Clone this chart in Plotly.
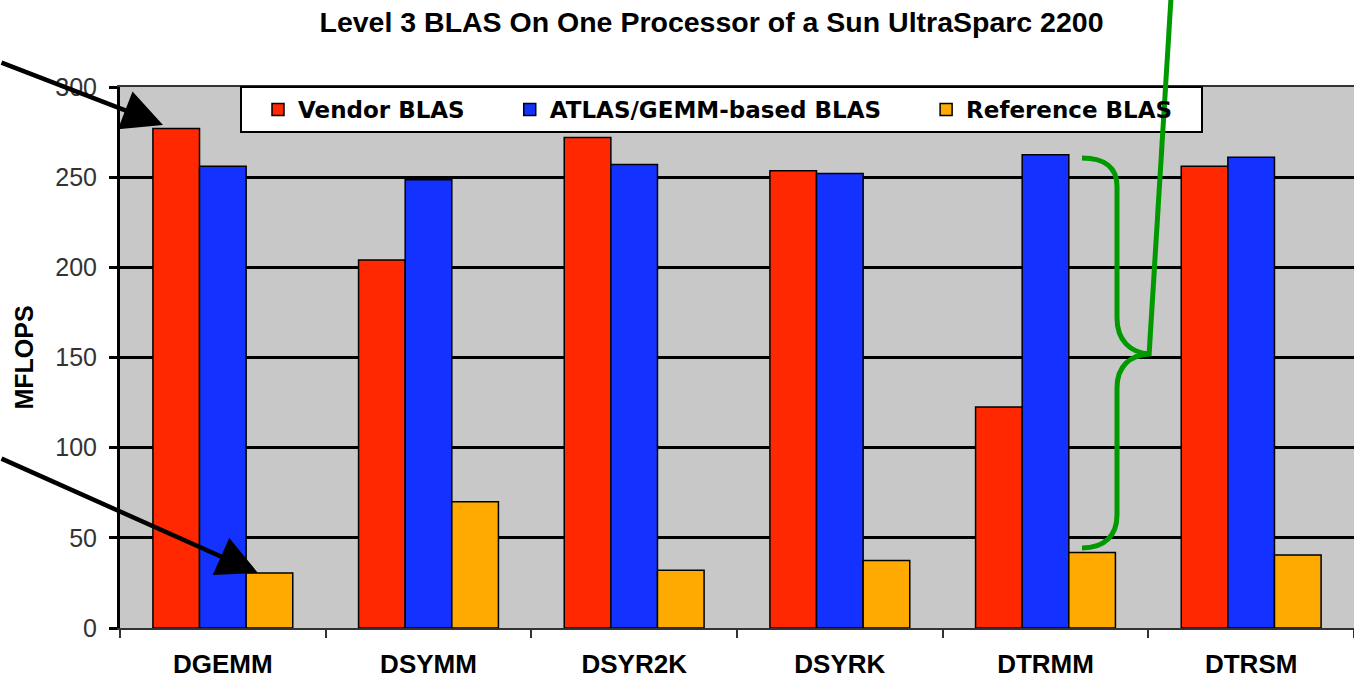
import plotly.graph_objects as go

categories = ["DGEMM", "DSYMM", "DSYR2K", "DSYRK", "DTRMM", "DTRSM"]
vendor = [277, 204, 272, 253.5, 122.5, 256]
atlas = [256, 248.5, 257, 252, 262.5, 261]
reference = [30.5, 70, 32, 37.5, 41.8, 40.5]
series_names = ["Vendor BLAS", "ATLAS/GEMM-based BLAS", "Reference BLAS"]
series_colors = ["#FF2800", "#1432FF", "#FFAA00"]
legend_pad = [5, 5, 0]
y_ticks = [0, 50, 100, 150, 200, 250, 300]
title_text = "Level 3 BLAS On One Processor of a Sun UltraSparc 2200"

W, H = 1354, 679
L, T, PW, PH = 120, 87, 1234, 541

def px(x):
    return (x - L) / PW

def py(y):
    return 1 - (y - T) / PH

fig = go.Figure()
for name, vals, col, pad in zip(series_names, [vendor, atlas, reference], series_colors, legend_pad):
    fig.add_trace(go.Bar(
        x=categories, y=vals, name=name + "\u00a0" * pad,
        marker=dict(color=col, line=dict(color="#000000", width=1.5)),
    ))

# green brace and pointer line (decorations, in pixel-derived paper coords)
pts = [
    ("M", [(1082, 158)]),
    ("C", [(1105, 158), (1117, 168), (1117, 186)]),
    ("L", [(1117, 318)]),
    ("C", [(1117, 340), (1130, 353), (1150, 354)]),
    ("C", [(1130, 355), (1117, 366), (1117, 388)]),
    ("L", [(1117, 515)]),
    ("C", [(1117, 535), (1105, 548), (1082, 548)]),
]
path = ""
for cmd, plist in pts:
    path += cmd + " " + " ".join(f"{px(a):.5f},{py(b):.5f}" for a, b in plist) + " "

shapes = [
    # legend frame
    dict(type="rect", xref="paper", yref="paper", layer="above",
         x0=px(241), y0=py(132), x1=px(1202), y1=py(87),
         fillcolor="#FFFFFF", line=dict(color="#000000", width=2)),
    dict(type="path", xref="paper", yref="paper", layer="above", path=path.strip(),
         line=dict(color="#009900", width=5)),
    dict(type="line", xref="paper", yref="paper", layer="above",
         x0=px(1149), y0=py(356), x1=px(1171), y1=py(-2),
         line=dict(color="#009900", width=5)),
]

annotations = [
    dict(x=px(163), y=py(125), xref="paper", yref="paper", text="",
         showarrow=True, arrowhead=2, arrowwidth=4.5, arrowsize=1.8,
         arrowcolor="#000000", ax=-163, ay=-63, standoff=0),
    dict(x=px(258), y=py(573), xref="paper", yref="paper", text="",
         showarrow=True, arrowhead=2, arrowwidth=4.5, arrowsize=1.8,
         arrowcolor="#000000", ax=-258, ay=-115, standoff=0),
]

fig.update_layout(
    width=W, height=H,
    margin=dict(l=L, r=W - L - PW, t=T, b=H - T - PH),
    paper_bgcolor="#FFFFFF", plot_bgcolor="#C8C8C8",
    barmode="group", bargap=0.32, bargroupgap=0,
    title=dict(text=title_text, x=711.5 / W, xref="container", xanchor="center",
               y=1 - 22 / H, yref="container", yanchor="middle",
               font=dict(family="Liberation Sans, Arial", size=28.5,
                         color="#000000", weight="bold")),
    legend=dict(orientation="h", x=px(258), y=py(88), xanchor="left", yanchor="top",
                bgcolor="rgba(0,0,0,0)", borderwidth=0,
                font=dict(family="DejaVu Sans", size=23, color="#000000", weight="bold")),
    xaxis=dict(type="category", tickson="boundaries", ticks="outside", ticklen=8,
               tickwidth=2, tickcolor="#333333", showgrid=False,
               showline=True, linecolor="#333333", linewidth=2, mirror=True,
               tickfont=dict(family="Liberation Sans, Arial", size=26,
                             color="#000000", weight="bold"),
               ticklabelstandoff=12),
    yaxis=dict(range=[0, 300], tickvals=y_ticks, ticks="outside", ticklen=8,
               tickwidth=3, tickcolor="#000000",
               showgrid=True, gridcolor="#000000", gridwidth=3,
               showline=True, linecolor="#000000", linewidth=3,
               zeroline=False, ticklabelstandoff=7,
               tickfont=dict(family="Liberation Sans, Arial", size=25, color="#333333"),
               title=dict(text="MFLOPS", standoff=15,
                          font=dict(family="Liberation Sans, Arial", size=25,
                                    color="#000000", weight="bold"))),
    shapes=shapes,
    annotations=annotations,
)

fig.write_html("out.html", config={"displayModeBar": False},
               post_script="document.body.style.margin='0';document.body.style.padding='0';")
